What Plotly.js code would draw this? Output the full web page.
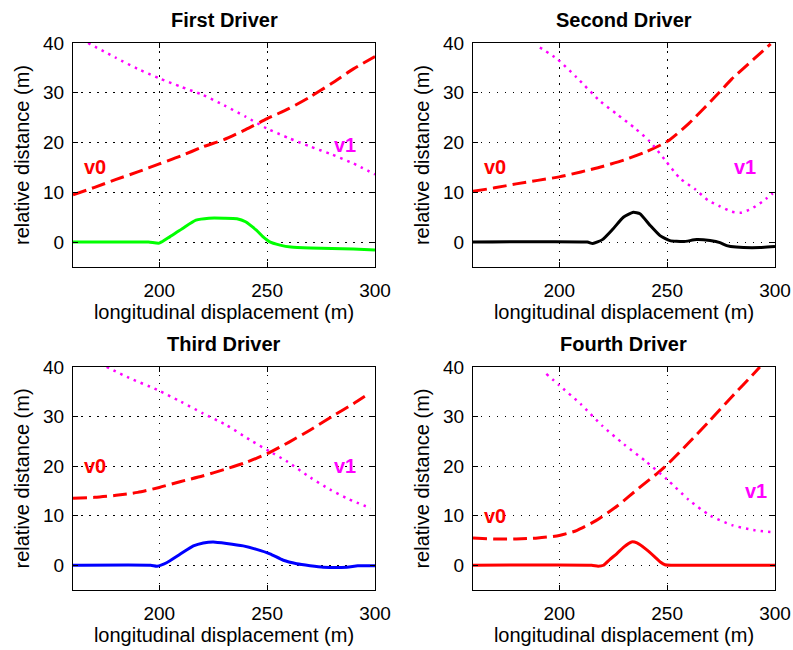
<!DOCTYPE html>
<html>
<head>
<meta charset="utf-8">
<script src="https://cdn.plot.ly/plotly-3.0.1.min.js"></script>
<style>html,body{margin:0;padding:0;background:#fff;}#chart{width:793px;height:650px;}</style>
</head>
<body>
<div id="chart"></div>
<script>
// ---- data ----
var titles = ["First Driver", "Second Driver", "Third Driver", "Fourth Driver"];
var solidColors = ["#00ff00", "#000000", "#0000ff", "#ff0000"];

// First driver
var d1_v0_x = [160,170,180,190,200,210,220,230,240,250,260,270,280,290,300];
var d1_v0_y = [9.5,11,12.6,14.1,15.7,17.3,19.1,20.6,22.6,24.8,26.8,29.2,31.9,34.8,37.3];
var d1_v1_x = [167,180,190,200,210,220,230,240,250,260,270,280,290,300];
var d1_v1_y = [40,37,34.8,32.9,31.2,29.6,27.5,25.2,22.8,20.9,19.2,17.6,15.8,13.6];
var d1_s_x  = [160,195,200,205,211,217,223,230,236,240,245,248,251,256,261,270,280,290,300];
var d1_s_y  = [0,0,-0.2,1.1,2.8,4.4,4.8,4.8,4.7,4.1,2.4,1.1,0.1,-0.6,-1.0,-1.2,-1.3,-1.4,-1.6];

// Second driver
var d2_v0_x = [160,170,180,190,200,210,220,230,240,250,260,274,280,290,298];
var d2_v0_y = [10.2,10.9,11.7,12.4,13.1,14.1,15.2,16.5,18.1,20.2,23.8,30,32.8,36.7,39.8];
var d2_v1_x = [191,199,208,219,227,235,242,249,256,263,269,274,280,284,289,294,299];
var d2_v1_y = [39.1,36.8,33.1,28.3,25.6,22.9,20.2,16.5,12.8,10.6,8.4,7.3,6.1,5.9,6.7,8.1,9.8];
var d2_s_x  = [160,213,215.5,220,225,229.7,234.3,237.4,242,246.7,251.3,257.5,263.7,269.9,274.5,277.6,282,293,300];
var d2_s_y  = [0,0,-0.3,0.5,2.7,5.0,6.0,5.7,3.4,1.3,0.3,0.1,0.5,0.3,-0.1,-0.7,-1.0,-1.1,-0.9];

// Third driver
var d3_v0_x = [160,170,180,190,200,210,220,230,240,250,260,270,280,290,296];
var d3_v0_y = [13.5,13.7,14.1,14.7,15.7,16.9,18,19.3,20.7,22.5,24.8,27.3,30,32.6,34.3];
var d3_v1_x = [175.6,186,199,210,220,231,242,251,259,270,279,288,298];
var d3_v1_y = [40,37.8,35.4,33,30.7,28.3,25.3,23,21,17.7,15.3,13.3,11.5];
var d3_s_x  = [160,196,199,203.4,209.6,215.8,220.4,225,231.2,238.9,245.1,251.3,257.5,263.7,269.9,276,287,292,300];
var d3_s_y  = [0,0,-0.2,0.5,2.2,3.9,4.5,4.7,4.4,3.9,3.2,2.3,1.0,0.3,-0.1,-0.4,-0.4,-0.1,-0.1];

// Fourth driver
var d4_v0_x = [160,170,180,190,200,208,217,227,237,245,250,260,270,280,290,293];
var d4_v0_y = [5.5,5.3,5.3,5.5,6,7,9,12,15.6,18.4,20.3,24.7,29.3,34,38.6,40];
var d4_v1_x = [194,200,210,220,230,240,250,260,270,280,290,300];
var d4_v1_y = [38.6,36.3,32.5,28.1,24.4,21,17.3,13.2,10,8.1,7.1,6.6];
var d4_s_x  = [160,215,218,220.5,223.5,226.6,230,233.5,236,240,244,247,249,252,300];
var d4_s_y  = [0,0,-0.2,0,1.2,2.3,3.7,4.7,4.5,3.3,1.8,0.6,0.1,0,0];

// label positions for v0 / v1 (data coords)
var v0_pos = [[170,15],[170,15],[170,20],[170,10]];
var v1_pos = [[286,19.5],[286,15],[286,20],[291,15]];

var xTicks = [200,250,300];
var yTicks = [0,10,20,30,40];
var xRange = [160,300];
var yRange = [-5,40];

// ---- build ----
var sets = [
  [d1_v0_x,d1_v0_y,d1_v1_x,d1_v1_y,d1_s_x,d1_s_y],
  [d2_v0_x,d2_v0_y,d2_v1_x,d2_v1_y,d2_s_x,d2_s_y],
  [d3_v0_x,d3_v0_y,d3_v1_x,d3_v1_y,d3_s_x,d3_s_y],
  [d4_v0_x,d4_v0_y,d4_v1_x,d4_v1_y,d4_s_x,d4_s_y]
];
var FONT = "Liberation Sans, Arial, Helvetica, sans-serif";
var traces = [];
var annotations = [];
var layout = {
  width: 793, height: 650,
  margin: {l: 73, r: 18, t: 43, b: 60, pad: 0},
  paper_bgcolor: "#ffffff", plot_bgcolor: "#ffffff",
  showlegend: false,
  font: {family: FONT, size: 19, color: "#000"}
};
var xDomains = [[0,0.4302],[0.5698,1],[0,0.4302],[0.5698,1]];
var yDomains = [[0.5905,1],[0.5905,1],[0,0.4077],[0,0.4077]];

for (var i = 0; i < 4; i++) {
  var sfx = i === 0 ? "" : String(i+1);
  var xa = "x" + sfx, ya = "y" + sfx;
  var s = sets[i];
  traces.push({x: s[0], y: s[1], xaxis: xa, yaxis: ya, mode: "lines", type: "scatter",
    line: {color: "#ff0000", width: 3, dash: "14px,6px", shape: "spline", smoothing: 0.6}, name: "v0", hoverinfo: "skip"});
  traces.push({x: s[2], y: s[3], xaxis: xa, yaxis: ya, mode: "lines", type: "scatter",
    line: {color: "#ff00ff", width: 2.5, dash: "2.5px,5px", shape: "spline", smoothing: 0.6}, name: "v1", hoverinfo: "skip"});
  traces.push({x: s[4], y: s[5], xaxis: xa, yaxis: ya, mode: "lines", type: "scatter",
    line: {color: solidColors[i], width: 3, shape: "spline", smoothing: 0.5}, name: "driver", hoverinfo: "skip"});

  var common = {
    showline: true, mirror: "ticks", linecolor: "#000", linewidth: 1,
    ticks: "inside", ticklen: 5, tickcolor: "#000", tickwidth: 1,
    showgrid: true, gridcolor: "#000", gridwidth: 1, griddash: "1.5px,6.5px",
    zeroline: false, tickfont: {family: FONT, size: 19, color: "#000"}
  };
  layout["xaxis" + sfx] = Object.assign({}, common, {
    domain: xDomains[i], range: xRange, tickvals: xTicks, ticktext: xTicks.map(String),
    anchor: ya, ticklabelstandoff: 6,
    title: {text: "longitudinal displacement (m)", font: {family: FONT, size: 20, color: "#000"}, standoff: 4}
  });
  layout["yaxis" + sfx] = Object.assign({}, common, {
    domain: yDomains[i], range: yRange, tickvals: yTicks, ticktext: yTicks.map(String),
    anchor: xa, ticklabelstandoff: 4,
    title: {text: "relative distance (m)", font: {family: FONT, size: 20, color: "#000"}, standoff: 8}
  });

  annotations.push({text: "<b>" + titles[i] + "</b>", xref: xa + " domain", yref: ya + " domain",
    x: 0.5, y: 1, xanchor: "center", yanchor: "middle", yshift: 23, showarrow: false,
    font: {family: FONT, size: 20, color: "#000"}});
  annotations.push({text: "<b>v0</b>", xref: xa, yref: ya, x: v0_pos[i][0], y: v0_pos[i][1],
    showarrow: false, font: {family: FONT, size: 20, color: "#ff0000"}});
  annotations.push({text: "<b>v1</b>", xref: xa, yref: ya, x: v1_pos[i][0], y: v1_pos[i][1],
    showarrow: false, font: {family: FONT, size: 20, color: "#ff00ff"}});
}
layout.annotations = annotations;

Plotly.newPlot("chart", traces, layout, {staticPlot: true, displayModeBar: false});
</script>
</body>
</html>
